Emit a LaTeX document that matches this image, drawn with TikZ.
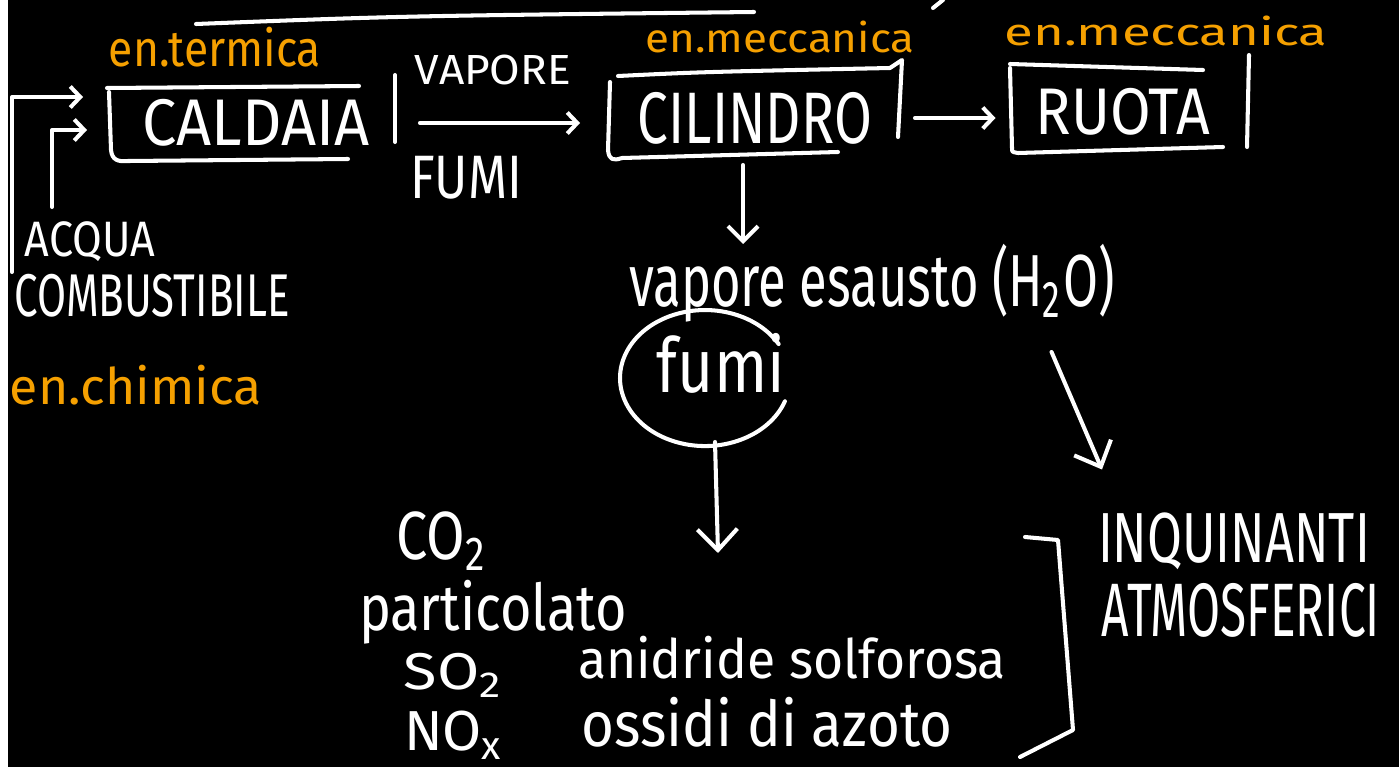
\documentclass[tikz,border=0pt]{standalone}
\usepackage{fontspec}
\setmainfont{Fira Sans}
\usepackage{graphicx}
\usetikzlibrary{arrows.meta,calc,shapes.geometric}
\newlength\pxu
\setlength\pxu{0.02cm}
\newcommand{\hwtext}[3]{\resizebox*{#1\pxu}{#2\pxu}{#3}}
\definecolor{pen}{HTML}{F5A000}
\tikzset{
  ink/.style={draw=white, line width=2.3pt, line cap=round, line join=round},
  arrs/.style={ink, -{Straight Barb[length=0.2cm,width=0.42cm]}},
  arrm/.style={ink, -{Straight Barb[length=0.3cm,width=0.6cm]}},
  arrb/.style={ink, -{Straight Barb[length=0.42cm,width=0.8cm]}},
  txt/.style={inner sep=0pt, outer sep=0pt, text=white},
  lbl/.style={txt, text=pen},
  hole/.style={inner sep=0pt, outer sep=0pt, draw=none}
}
\begin{document}
\begin{tikzpicture}[x=0.02cm,y=-0.02cm]
\useasboundingbox (0,0) rectangle (1399,767);
\fill[black] (0,0) rectangle (1399,767);
\fill[white] (0,0) rectangle (8,767);

% invisible frames of the boxes
\node[hole, minimum width=5.72cm, minimum height=1.46cm] (caldaiabox) at (252,123) {};
\node[hole, minimum width=5.8cm, minimum height=1.96cm] (cilindrobox) at (755,111) {};
\node[hole, minimum width=4.78cm, minimum height=1.96cm] (ruotabox) at (1130,104) {};
\node[hole, ellipse, minimum width=3.4cm, minimum height=2.72cm] (fumiell) at (705,378) {};

% texts
\node[lbl] (termica) at (215,47) {\hwtext{212}{40}{en.termica}};
\node[txt] (caldaia) at (256,123) {\hwtext{227}{47}{CALDAIA}};
\node[txt] (vapore) at (493,70) {\hwtext{156}{30}{VAPORE}};
\node[txt] (fumi) at (466,178) {\hwtext{112}{43}{FUMI}};
\node[lbl] (mecc1) at (780,37) {\hwtext{269}{32}{en.meccanica}};
\node[txt] (cilindro) at (755,118) {\hwtext{234}{52}{CILINDRO}};
\node[lbl] (mecc2) at (1166,31) {\hwtext{323}{30}{en.meccanica}};
\node[txt] (ruota) at (1123,112) {\hwtext{174}{47}{RUOTA}};
\node[txt] (acqua) at (90,242) {\hwtext{130}{40}{ACQUA}};
\node[txt] (combust) at (152,296) {\hwtext{275}{43}{COMBUSTIBILE}};
\node[lbl] (chimica) at (136,385) {\hwtext{252}{40}{en.chimica}};
\node[txt] (esausto) at (872,283) {\hwtext{485}{78}{vapore esausto (H\textsubscript{2}O)}};
\node[txt] (fumitxt) at (721,363) {\hwtext{128}{60}{fumi}};
\node[txt] (co2) at (442,541) {\hwtext{91}{58}{CO\textsubscript{2}}};
\node[txt] (partic) at (493,612) {\hwtext{268}{64}{particolato}};
\node[txt] (so2) at (454,675) {\hwtext{100}{44}{SO\textsubscript{2}}};
\node[txt] (anidride) at (792,658) {\hwtext{428}{43}{anidride solforosa}};
\node[txt] (nox) at (454,735) {\hwtext{100}{48}{NO\textsubscript{x}}};
\node[txt] (ossidi) at (767,722) {\hwtext{371}{50}{ossidi di azoto}};
\node[txt] (inquin) at (1234,541) {\hwtext{272}{57}{INQUINANTI}};
\node[txt] (atmosf) at (1241,610) {\hwtext{278}{54}{ATMOSFERICI}};

% hand-drawn frames
\draw[ink] (196,24) .. controls (400,16) .. (754,12);
\draw[ink] (933,8) -- (943,0);
\draw[ink] (107,88) -- (359,86);
\draw[ink] (109,92) -- (111,150) .. controls (112,160) and (118,162) .. (128,161) -- (348,159);
\draw[ink] (395,75) -- (395,142);
\draw[ink] (618,76) .. controls (700,72) .. (890,68) -- (902,60) -- (898,137);
\draw[ink] (610,82) -- (608,150) .. controls (609,160) and (613,161) .. (622,158) -- (838,152);
\draw[ink] (1010,64) -- (1203,70);
\draw[ink] (1010,68) -- (1012,148) .. controls (1012,152) .. (1018,153) -- (1223,147);
\draw[ink] (1249,55) -- (1247,147);
\draw[ink] (784.9,401.3) arc[start angle=20, end angle=330, x radius=85, y radius=68];
\draw[ink] (1025,537) -- (1058,540) -- (1073,730) -- (1020,757);

% connectors
\coordinate (feedin) at (12,272);
\draw[arrs, shorten >=0.52cm] (feedin) |- ($(caldaiabox.west)+(0,-26)$);
\draw[arrs, shorten >=0.44cm] ($(acqua.north)+(-38,-15)$) |- ($(caldaiabox.west)+(0,7)$);
\draw[arrs, shorten <=0.5cm, shorten >=0.6cm] (caldaiabox.east) -- (caldaiabox.east -| cilindrobox.west);
\coordinate (cr) at ($(cilindrobox.east)+(0,7)$);
\draw[arrs, shorten <=0.3cm, shorten >=0.3cm] (cr) -- (cr -| ruotabox.west);
\coordinate (cd) at ($(cilindrobox.south)+(-12,0)$);
\draw[arrm, shorten <=0.1cm] (cd) -- (cd |- esausto.north);
\draw[arrb] ($(esausto.south east)+(-63,30)$) -- ($(inquin.north west)+(4,-43)$);
\coordinate (fumiend) at (718,553);
\draw[arrb] ($(fumiell.south)+(10,-4)$) -- (fumiend);
\end{tikzpicture}
\end{document}
